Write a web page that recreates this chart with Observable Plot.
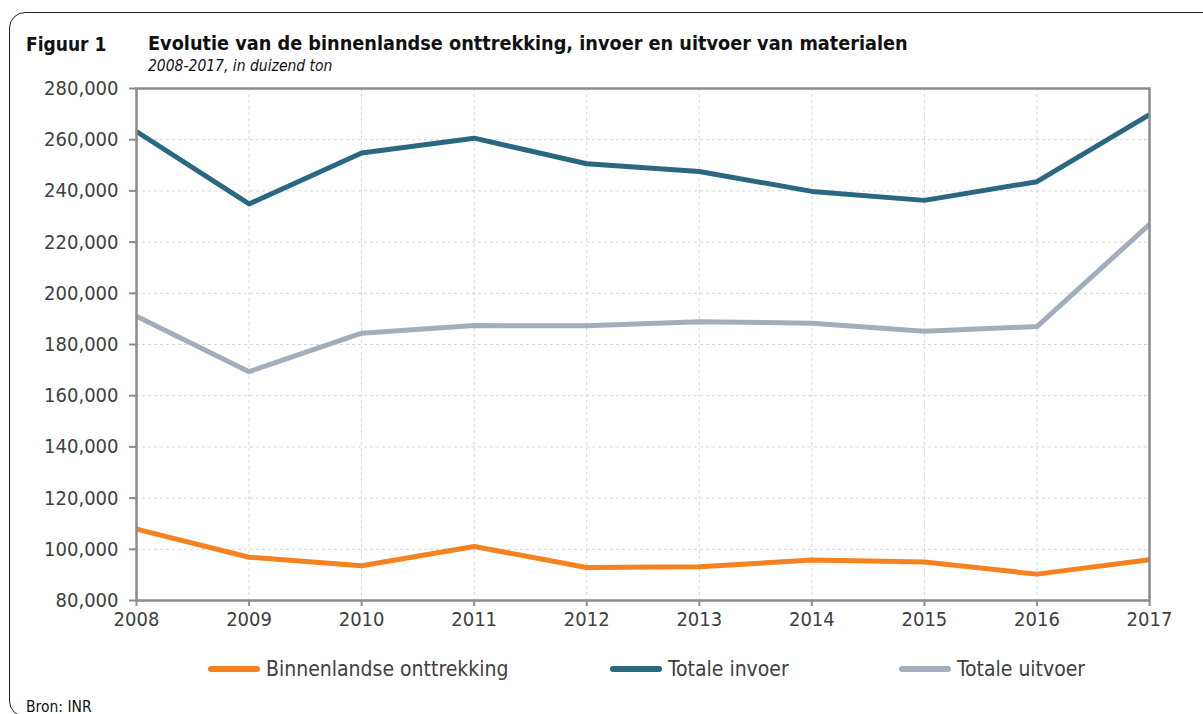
<!DOCTYPE html>
<html>
<head>
<meta charset="utf-8">
<script src="https://cdn.jsdelivr.net/npm/d3@7"></script>
<script src="https://cdn.jsdelivr.net/npm/@observablehq/plot@0.6"></script>
<style>
  html, body { margin: 0; padding: 0; background: #fff; }
  body { width: 1203px; height: 714px; position: relative; overflow: hidden; font-family: "DejaVu Sans Condensed", "DejaVu Sans", sans-serif; color: #404040; }
  #frame { position: absolute; left: 9px; top: 12px; width: 1260px; height: 705px; border: 1.5px solid #222; border-radius: 16px; box-sizing: border-box; }
  .abs { position: absolute; white-space: nowrap; }
  #fig { left: 26px; top: 33px; font-weight: bold; font-size: 19px; color: #111; }
  #title { left: 148px; top: 32px; font-weight: bold; font-size: 19.7px; color: #111; }
  #subtitle { left: 148px; top: 57px; font-style: italic; font-size: 15.5px; color: #111; }
  #chart { position: absolute; left: 0; top: 0; }
  #legend { position: absolute; left: 0; top: 655px; width: 1203px; height: 28px; }
  .item { position: absolute; top: 0; height: 28px; display: flex; align-items: center; font-size: 21px; color: #404040; }
  .sw { width: 52px; height: 6px; border-radius: 3px; margin-right: 6px; }
  #source { left: 26px; top: 698px; font-size: 15.5px; color: #111; }
</style>
</head>
<body>
<div id="frame"></div>
<div id="chart"></div>
<div class="abs" id="fig">Figuur 1</div>
<div class="abs" id="title">Evolutie van de binnenlandse onttrekking, invoer en uitvoer van materialen</div>
<div class="abs" id="subtitle">2008-2017, in duizend ton</div>
<div id="legend"></div>
<div class="abs" id="source">Bron: INR</div>
<script>
const years = [2008, 2009, 2010, 2011, 2012, 2013, 2014, 2015, 2016, 2017];
const seriesNames = ["Binnenlandse onttrekking", "Totale invoer", "Totale uitvoer"];
const seriesColors = ["#f5821f", "#2a6882", "#a3aebb"];
const binnenlandse = [107900, 96900, 93600, 101100, 92900, 93200, 95800, 95000, 90300, 95900];
const invoer = [263200, 234900, 254800, 260600, 250600, 247600, 239800, 236300, 243600, 269800];
const uitvoer = [191000, 169400, 184400, 187400, 187300, 188900, 188300, 185200, 187000, 226900];
const yTicks = [80000, 100000, 120000, 140000, 160000, 180000, 200000, 220000, 240000, 260000, 280000];

const seriesValues = [binnenlandse, invoer, uitvoer];
const data = [];
seriesNames.forEach((name, i) => {
  years.forEach((yr, j) => data.push({series: name, year: yr, value: seriesValues[i][j]}));
});

const fmt = d3.format(",");
const chart = Plot.plot({
  width: 1203,
  height: 640,
  marginLeft: 136,
  marginRight: 54,
  marginTop: 88,
  marginBottom: 40,
  style: { fontFamily: '"DejaVu Sans Condensed", "DejaVu Sans", sans-serif', fontSize: "20px", color: "#404040", background: "transparent" },
  x: { domain: [2008, 2017], ticks: years, tickFormat: d => String(d) },
  y: { domain: [80000, 280000], ticks: yTicks, tickFormat: fmt },
  color: { domain: seriesNames, range: seriesColors },
  marks: [
    Plot.gridX(years, { stroke: "#d4d4d4", strokeOpacity: 1, strokeDasharray: "3,3", strokeWidth: 1 }),
    Plot.gridY(yTicks, { stroke: "#d4d4d4", strokeOpacity: 1, strokeDasharray: "3,3", strokeWidth: 1 }),
    Plot.line(data, { x: "year", y: "value", z: "series", stroke: "series", strokeWidth: 5, strokeLinejoin: "round", strokeLinecap: "butt" }),
    Plot.frame({ stroke: "#8c8c8c", strokeWidth: 2.5 }),
    Plot.axisY(yTicks, { tickSize: 7, tickPadding: 11, tickFormat: fmt, stroke: "#8c8c8c", strokeWidth: 2, fill: "#404040", label: null }),
    Plot.axisX(years, { tickSize: 6, tickPadding: 5, tickFormat: d => String(d), stroke: "#8c8c8c", strokeWidth: 2, fill: "#404040", label: null })
  ]
});
document.getElementById("chart").appendChild(chart);

const legendPos = [208, 610, 899];
const legend = document.getElementById("legend");
seriesNames.forEach((name, i) => {
  const it = document.createElement("div");
  it.className = "item";
  it.style.left = legendPos[i] + "px";
  const sw = document.createElement("div");
  sw.className = "sw";
  sw.style.background = seriesColors[i];
  const tx = document.createElement("span");
  tx.textContent = name;
  it.appendChild(sw);
  it.appendChild(tx);
  legend.appendChild(it);
});
</script>
</body>
</html>
